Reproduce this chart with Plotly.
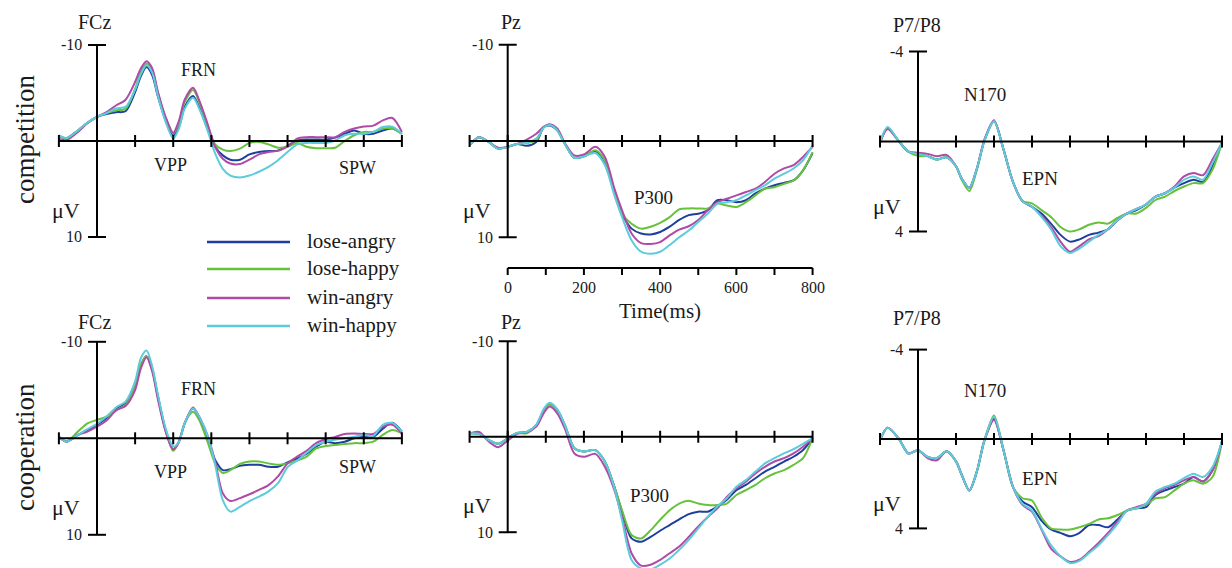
import plotly.graph_objects as go

W, H = 1232, 568
FONT = "Liberation Serif, Times New Roman, serif"

conditions = ["lose-angry", "lose-happy", "win-angry", "win-happy"]
colors = ["#1d3f9e", "#66c23a", "#b04aa8", "#5ccbdc"]

# ---------------- time grids (ms) ----------------
t_fcz = [-100, -80, -50, -25, 0, 25, 50, 75, 100, 115, 130, 145, 160, 180, 200, 215, 230, 252, 270, 290,
         310, 330, 350, 375, 400, 425, 450, 475, 500, 525, 550, 575, 600, 625, 650, 675, 700, 725, 750, 775, 800]
t_pz = [-100, -75, -50, -25, 0, 25, 50, 75, 95, 110, 130, 150, 175, 200, 230, 255, 280, 300, 325, 350,
        375, 400, 425, 450, 475, 500, 525, 550, 575, 600, 625, 650, 675, 700, 725, 750, 775, 800]
t_p78 = [-100, -80, -50, -25, 0, 25, 50, 75, 100, 115, 135, 155, 175, 200, 225, 250, 275, 300, 325, 350,
         375, 400, 425, 450, 475, 500, 525, 550, 575, 600, 625, 650, 675, 700, 725, 750, 775, 800]

# ---------------- FCz competition (µV) ----------------
fcz_comp_lose_angry = [-0.5, -0.3, -1.1, -1.9, -2.5, -2.8, -3.0, -3.1, -5.1, -6.75, -7.7, -6.85, -4.6, -2.15, -0.6, -1.45, -3.55,
                       -4.7, -3.35, -1.3, 0.6, 1.5, 1.95, 1.95, 1.4, 1.15, 1.05, 1.0, 0.5, -0.05, -0.15, -0.15, -0.15,
                       -0.35, -0.75, -1.1, -0.75, -0.75, -1.1, -1.3, -0.75]
fcz_comp_lose_happy = [-0.5, -0.3, -1.1, -1.9, -2.5, -2.9, -3.2, -3.35, -5.45, -7.2, -8.05, -7.35, -4.95, -2.45, -0.75, -1.9, -4.05,
                       -5.3, -3.9, -1.65, 0.35, 0.9, 1.05, 0.8, 0.2, 0.1, 0.35, 0.7, 0.6, 0.2, 0.6, 0.75, 0.75,
                       0.7, 0.0, -0.6, -0.95, -0.95, -1.3, -1.3, -0.75]
fcz_comp_win_angry = [-0.2, -0.1, -0.95, -1.85, -2.5, -3.0, -3.7, -4.3, -6.15, -7.55, -8.3, -7.55, -5.1, -2.5, -0.85, -2.1, -4.3,
                      -5.55, -4.05, -1.8, 0.6, 1.85, 2.35, 2.4, 1.95, 1.4, 1.15, 1.0, 0.6, -0.25, -0.4, -0.4, -0.4,
                      -0.4, -0.95, -1.3, -1.5, -1.6, -2.15, -2.4, -0.95]
fcz_comp_win_happy = [-0.6, -0.3, -1.1, -1.9, -2.5, -2.9, -3.4, -3.55, -5.35, -6.95, -7.9, -7.1, -4.65, -2.0, -0.25, -1.3, -3.35,
                      -4.5, -3.2, -1.1, 1.3, 2.9, 3.6, 3.8, 3.6, 3.2, 2.7, 2.0, 1.15, 0.35, 0.2, 0.2, 0.2,
                      -0.05, -0.6, -0.75, -0.75, -0.95, -1.45, -1.5, -0.75]

# ---------------- FCz cooperation ----------------
fcz_coop_lose_angry = [-0.15, 0.35, -0.35, -0.85, -1.4, -2.1, -3.1, -3.65, -5.35, -7.6, -8.5, -7.15, -4.3, -0.85, 1.15, 0.35, -1.55,
                       -3.1, -2.1, 0.15, 2.25, 3.3, 3.2, 2.85, 2.75, 2.75, 2.95, 2.95, 2.5, 2.1, 1.6, 0.85, 0.35,
                       0.5, 0.35, 0.0, -0.15, -0.15, -1.0, -1.6, -0.7]
fcz_coop_lose_happy = [-0.15, 0.35, -0.7, -1.55, -1.9, -2.25, -2.9, -3.45, -5.35, -7.6, -8.5, -7.15, -4.3, -0.85, 1.3, 0.35, -1.55,
                       -2.75, -1.75, 0.35, 2.6, 3.6, 3.3, 2.65, 2.4, 2.4, 2.6, 2.75, 2.6, 2.3, 1.9, 1.05, 0.8,
                       0.7, 0.6, 0.5, 0.5, 0.35, -0.35, -0.85, -0.5]
fcz_coop_win_angry = [-0.15, 0.35, -0.35, -0.7, -1.2, -1.85, -2.9, -3.35, -5.0, -7.25, -8.4, -6.9, -4.0, -0.7, 1.15, 0.35, -1.55,
                      -3.2, -2.05, -0.3, 2.4, 5.7, 6.5, 6.2, 5.8, 5.35, 4.85, 3.95, 2.6, 1.9, 1.3, 0.5, 0.1,
                      -0.15, -0.45, -0.5, -0.45, -0.45, -1.2, -1.4, -0.5]
fcz_coop_win_happy = [-0.15, 0.35, -0.35, -0.95, -1.5, -2.25, -3.2, -3.8, -5.9, -8.3, -9.1, -7.45, -4.5, -1.05, 0.85, 0.35, -1.55,
                      -3.1, -2.1, -0.3, 2.75, 6.4, 7.6, 7.1, 6.5, 6.05, 5.5, 4.65, 3.0, 2.3, 1.5, 0.7, 0.35,
                      0.15, 0.0, -0.15, -0.35, -0.25, -1.4, -1.6, -0.7]

# ---------------- Pz competition ----------------
pz_comp_lose_angry = [0.4, -0.4, 0.1, 0.8, 0.6, 0.3, 0.5, 0.1, -1.45, -1.6, -1.1, 0.3, 1.75, 1.6, 1.05, 2.35, 5.3,
                      7.55, 9.1, 9.6, 9.7, 9.45, 8.9, 8.2, 7.7, 7.55, 7.2, 6.15, 6.15, 6.35, 6.15, 5.45, 4.95,
                      4.6, 4.35, 4.1, 3.05, 1.25]
pz_comp_lose_happy = [0.4, -0.4, 0.1, 0.8, 0.6, 0.3, 0.2, -0.05, -1.45, -1.7, -1.1, 0.3, 1.75, 1.6, 0.95, 2.0, 5.3,
                      7.55, 8.6, 9.1, 8.9, 8.5, 7.9, 7.1, 7.0, 7.0, 7.0, 6.5, 6.7, 6.85, 6.35, 5.65, 4.95,
                      4.8, 4.45, 4.1, 3.05, 1.15]
pz_comp_win_angry = [0.4, -0.4, 0.1, 0.7, 0.6, 0.3, -0.15, -0.75, -1.5, -1.75, -1.3, 0.2, 1.5, 1.4, 0.6, 1.65, 4.95,
                     7.2, 9.6, 10.6, 10.7, 10.5, 9.8, 9.2, 8.85, 8.2, 7.2, 6.35, 6.0, 5.65, 5.3, 4.95, 4.25,
                     3.4, 2.85, 2.5, 1.65, 0.6]
pz_comp_win_happy = [0.4, -0.4, 0.1, 0.8, 0.6, 0.3, 0.2, -0.25, -1.4, -1.65, -1.1, 0.3, 1.75, 1.6, 1.25, 2.5, 5.65,
                     7.9, 10.3, 11.5, 11.7, 11.5, 10.8, 10.0, 9.3, 8.4, 7.55, 6.5, 6.35, 6.15, 5.65, 5.1, 4.6,
                     3.9, 3.4, 2.85, 2.0, 0.45]

# ---------------- Pz cooperation ----------------
pz_coop_lose_angry = [-0.35, -0.3, 0.35, 0.75, 0.15, -0.4, -0.5, -1.2, -2.8, -3.4, -2.8, -1.2, 1.2, 1.55, 1.4, 2.6, 5.25,
                      7.85, 10.65, 11.0, 10.5, 9.85, 9.25, 8.65, 8.1, 7.85, 7.85, 7.3, 6.6, 5.6, 5.05, 4.35, 3.65,
                      3.15, 2.6, 2.1, 1.4, 0.15]
pz_coop_lose_happy = [-0.35, -0.3, 0.35, 0.75, 0.15, -0.4, -0.35, -1.2, -2.8, -3.4, -2.8, -1.2, 1.2, 1.55, 1.4, 2.6, 5.25,
                      7.7, 10.3, 10.65, 9.8, 8.7, 7.7, 7.0, 6.7, 7.0, 7.15, 7.15, 7.0, 6.1, 5.6, 5.05, 4.35,
                      3.85, 3.5, 2.95, 2.25, 0.15]
pz_coop_win_angry = [-0.35, -0.5, 0.5, 1.1, 0.4, -0.3, -0.45, -1.05, -2.5, -3.15, -2.45, -0.85, 1.75, 2.1, 1.8, 3.15, 5.6,
                     8.4, 12.2, 13.5, 13.4, 12.9, 12.2, 11.5, 10.5, 9.4, 8.4, 7.5, 6.3, 5.4, 4.7, 3.85, 3.15,
                     2.6, 2.25, 1.75, 1.05, 0.15]
pz_coop_win_happy = [-0.35, -0.3, 0.35, 0.75, 0.15, -0.4, -0.5, -1.25, -2.95, -3.55, -2.9, -1.2, 1.2, 1.55, 1.4, 2.6, 5.4,
                     8.75, 12.9, 13.8, 13.9, 13.4, 12.75, 11.85, 10.8, 9.6, 8.4, 7.3, 6.45, 5.25, 4.55, 3.65, 2.8,
                     2.25, 1.75, 1.3, 0.75, 0.15]

# ---------------- P7/P8 competition ----------------
p78_comp_lose_angry = [0.05, -0.6, 0.0, 0.45, 0.55, 0.65, 0.8, 0.7, 1.1, 1.65, 2.05, 1.2, -0.05, -0.9, 0.35, 1.8, 2.65,
                       2.9, 3.2, 3.65, 4.15, 4.45, 4.35, 4.15, 4.05, 3.9, 3.5, 3.2, 3.05, 2.8, 2.45, 2.3, 2.05,
                       1.85, 1.7, 1.8, 1.1, 0.05]
p78_comp_lose_happy = [0.05, -0.6, 0.0, 0.45, 0.65, 0.65, 0.8, 0.7, 1.1, 1.7, 2.2, 1.25, -0.05, -0.9, 0.35, 1.8, 2.65,
                       2.75, 3.05, 3.35, 3.8, 4.0, 3.9, 3.7, 3.6, 3.65, 3.4, 3.2, 3.2, 2.95, 2.6, 2.45, 2.2,
                       2.0, 1.85, 1.85, 1.25, 0.05]
p78_comp_win_angry = [0.05, -0.55, 0.0, 0.45, 0.5, 0.55, 0.65, 0.6, 1.1, 1.65, 2.05, 1.2, -0.1, -0.95, 0.35, 1.8, 2.65,
                      2.9, 3.3, 3.8, 4.45, 4.9, 4.65, 4.35, 4.2, 3.9, 3.5, 3.2, 3.0, 2.8, 2.45, 2.3, 2.0,
                      1.55, 1.4, 1.5, 0.8, 0.05]
p78_comp_win_happy = [0.05, -0.65, 0.0, 0.45, 0.55, 0.65, 0.8, 0.7, 1.1, 1.65, 2.05, 1.2, -0.05, -0.9, 0.35, 1.8, 2.65,
                      2.9, 3.35, 3.9, 4.65, 4.95, 4.75, 4.45, 4.15, 3.9, 3.5, 3.2, 3.0, 2.8, 2.45, 2.3, 2.05,
                      1.7, 1.55, 1.7, 0.95, 0.05]

# ---------------- P7/P8 cooperation ----------------
p78_coop_lose_angry = [0.05, -0.5, 0.0, 0.65, 0.5, 0.8, 0.85, 0.55, 1.0, 1.6, 2.3, 1.45, 0.05, -0.9, 0.5, 2.15, 2.8,
                       3.05, 3.65, 4.05, 4.2, 4.35, 4.2, 3.85, 3.85, 3.95, 3.6, 3.2, 3.1, 3.05, 2.5, 2.3, 2.15,
                       2.0, 1.7, 1.9, 1.4, 0.1]
p78_coop_lose_happy = [0.05, -0.5, 0.0, 0.65, 0.5, 0.8, 0.85, 0.55, 1.0, 1.6, 2.3, 1.45, 0.05, -1.05, 0.5, 2.15, 2.65,
                       2.75, 3.5, 4.0, 4.05, 4.05, 3.95, 3.8, 3.6, 3.55, 3.4, 3.2, 3.1, 2.95, 2.65, 2.6, 2.3,
                       2.0, 1.85, 2.0, 1.7, 0.1]
p78_coop_win_angry = [0.05, -0.5, 0.0, 0.65, 0.5, 0.85, 0.95, 0.55, 1.0, 1.6, 2.3, 1.45, 0.05, -0.85, 0.5, 2.15, 2.95,
                      3.25, 4.05, 4.9, 5.25, 5.5, 5.4, 5.05, 4.65, 4.2, 3.7, 3.2, 3.05, 2.9, 2.45, 2.2, 2.05,
                      1.85, 1.7, 1.9, 1.4, 0.1]
p78_coop_win_happy = [0.05, -0.5, 0.0, 0.65, 0.5, 0.8, 0.85, 0.55, 1.0, 1.6, 2.3, 1.45, 0.05, -1.0, 0.5, 2.15, 2.9,
                      3.2, 4.0, 4.75, 5.25, 5.55, 5.45, 5.1, 4.75, 4.3, 3.8, 3.2, 3.1, 2.9, 2.35, 2.15, 2.0,
                      1.75, 1.55, 1.7, 1.25, 0.1]

time_ticks = [0, 200, 400, 600, 800]

# ---------------- panel geometry (pixels) ----------------
panels = [
    dict(title="FCz", t=t_fcz, lim=10, x0=97.0, y0=141.0, sx=343 / 900, sy=9.6, top=24, bot=265,
         series=[fcz_comp_lose_angry, fcz_comp_lose_happy, fcz_comp_win_angry, fcz_comp_win_happy]),
    dict(title="Pz", t=t_pz, lim=10, x0=507.7, y0=141.0, sx=343 / 900, sy=9.63, top=24, bot=284,
         series=[pz_comp_lose_angry, pz_comp_lose_happy, pz_comp_win_angry, pz_comp_win_happy]),
    dict(title="P7/P8", t=t_p78, lim=4, x0=918.0, y0=141.5, sx=342 / 900, sy=22.5, top=24, bot=265,
         series=[p78_comp_lose_angry, p78_comp_lose_happy, p78_comp_win_angry, p78_comp_win_happy]),
    dict(title="FCz", t=t_fcz, lim=10, x0=97.0, y0=438.3, sx=343 / 900, sy=9.65, top=325, bot=568,
         series=[fcz_coop_lose_angry, fcz_coop_lose_happy, fcz_coop_win_angry, fcz_coop_win_happy]),
    dict(title="Pz", t=t_pz, lim=10, x0=507.7, y0=436.7, sx=343 / 900, sy=9.55, top=325, bot=568,
         series=[pz_coop_lose_angry, pz_coop_lose_happy, pz_coop_win_angry, pz_coop_win_happy]),
    dict(title="P7/P8", t=t_p78, lim=4, x0=918.0, y0=439.0, sx=342 / 900, sy=22.35, top=325, bot=568,
         series=[p78_coop_lose_angry, p78_coop_lose_happy, p78_coop_win_angry, p78_coop_win_happy]),
]

fig = go.Figure()
layout = dict(width=W, height=H, margin=dict(l=0, r=0, t=0, b=0), paper_bgcolor="white",
              plot_bgcolor="rgba(0,0,0,0)", showlegend=False)
shapes = []
annotations = []


def px_x(px):
    return px / W


def px_y(py):
    return 1 - py / H


def text(s, x, y, size, xanchor="center", angle=0):
    annotations.append(dict(text=s, x=px_x(x), y=px_y(y), xref="paper", yref="paper", showarrow=False,
                            xanchor=xanchor, yanchor="middle", textangle=angle,
                            font=dict(family=FONT, size=size, color="#1a1a1a")))


for i, p in enumerate(panels, start=1):
    xa = "x" if i == 1 else f"x{i}"
    ya = "y" if i == 1 else f"y{i}"
    left = p["x0"] + p["sx"] * -100 - 10
    right = min(W, p["x0"] + p["sx"] * 800 + 10)
    xdom = [max(0.0, left / W), min(1.0, right / W)]
    xr = [(left - p["x0"]) / p["sx"], (right - p["x0"]) / p["sx"]]
    ydom = [max(0.0, 1 - p["bot"] / H), 1 - p["top"] / H]
    yr = [(p["bot"] - p["y0"]) / p["sy"], (p["top"] - p["y0"]) / p["sy"]]
    axkw = dict(showgrid=False, zeroline=False, showticklabels=False, ticks="", showline=False, fixedrange=True)
    layout["xaxis" if i == 1 else f"xaxis{i}"] = dict(domain=xdom, range=xr, anchor=ya, **axkw)
    layout["yaxis" if i == 1 else f"yaxis{i}"] = dict(domain=ydom, range=yr, anchor=xa, **axkw)

    for name, col, ys in zip(conditions, colors, p["series"]):
        fig.add_trace(go.Scatter(x=p["t"], y=ys, mode="lines", name=name, xaxis=xa, yaxis=ya,
                                 line=dict(color=col, width=2, shape="spline", smoothing=0.8),
                                 hoverinfo="skip"))

    ax_line = dict(color="black", width=2)
    # horizontal (time) axis at 0 µV
    shapes.append(dict(type="line", xref=xa, yref=ya, x0=-100, x1=800, y0=0, y1=0, line=ax_line))
    tk = 6 / p["sy"]
    for tt in range(-100, 801, 100):
        shapes.append(dict(type="line", xref=xa, yref=ya, x0=tt, x1=tt, y0=-tk, y1=tk, line=ax_line))
    # vertical (µV) axis at 0 ms
    shapes.append(dict(type="line", xref=xa, yref=ya, x0=0, x1=0, y0=-p["lim"], y1=p["lim"], line=ax_line))
    hk = 9 / p["sx"]
    for v in (-p["lim"], p["lim"]):
        shapes.append(dict(type="line", xref=xa, yref=ya, x0=-hk, x1=hk, y0=v, y1=v, line=ax_line))

    # labels
    ax_px = p["x0"]
    top_px = p["y0"] - p["lim"] * p["sy"]
    bot_px = p["y0"] + p["lim"] * p["sy"]
    text(f"-{p['lim']}", ax_px - 13, top_px, 16, xanchor="right")
    text(f"{p['lim']}", ax_px - 13, bot_px, 16, xanchor="right")
    text("μV", ax_px - 31, p["y0"] + 0.72 * (bot_px - p["y0"]), 22)

# panel titles
text("FCz", 94, 22, 20)
text("Pz", 511, 22, 20)
text("P7/P8", 917, 25, 20)
text("FCz", 94, 322, 20)
text("Pz", 511, 322, 20)
text("P7/P8", 917, 318, 20)

# component labels
text("FRN", 198, 70, 18)
text("VPP", 170, 165, 18)
text("SPW", 357, 168, 18)
text("P300", 653, 197, 19)
text("N170", 985, 95, 19)
text("EPN", 1040, 179, 19)
text("FRN", 198, 389, 18)
text("VPP", 170, 472, 18)
text("SPW", 357, 467, 18)
text("P300", 649, 495, 19)
text("N170", 985, 390, 19)
text("EPN", 1040, 478, 19)

# row labels
text("competition", 25, 140, 27, angle=-90)
text("cooperation", 25, 447, 27, angle=-90)

# time axis below the competition Pz panel
p = panels[1]
y_ta = (268 - p["y0"]) / p["sy"]
y_tk = (275 - p["y0"]) / p["sy"]
shapes.append(dict(type="line", xref="x2", yref="y2", x0=0, x1=800, y0=y_ta, y1=y_ta,
                   line=dict(color="black", width=2)))
for tt in range(0, 801, 100):
    shapes.append(dict(type="line", xref="x2", yref="y2", x0=tt, x1=tt, y0=y_ta, y1=y_tk,
                       line=dict(color="black", width=2)))
for tt in time_ticks:
    text(str(tt), p["x0"] + p["sx"] * tt, 287, 16)
text("Time(ms)", p["x0"] + p["sx"] * 400, 311, 21)

# legend
leg_y = [242, 269, 298, 326]
for name, col, ly in zip(conditions, colors, leg_y):
    shapes.append(dict(type="line", xref="paper", yref="paper", x0=px_x(207), x1=px_x(290),
                       y0=px_y(ly), y1=px_y(ly), line=dict(color=col, width=2.5)))
    text(name, 305, ly - 1, 21, xanchor="left")

layout["shapes"] = shapes
layout["annotations"] = annotations
fig.update_layout(**layout)
fig.write_html("out.html", config={"displayModeBar": False, "staticPlot": True},
               post_script="document.body.style.margin='0px';document.body.style.overflow='hidden';")
